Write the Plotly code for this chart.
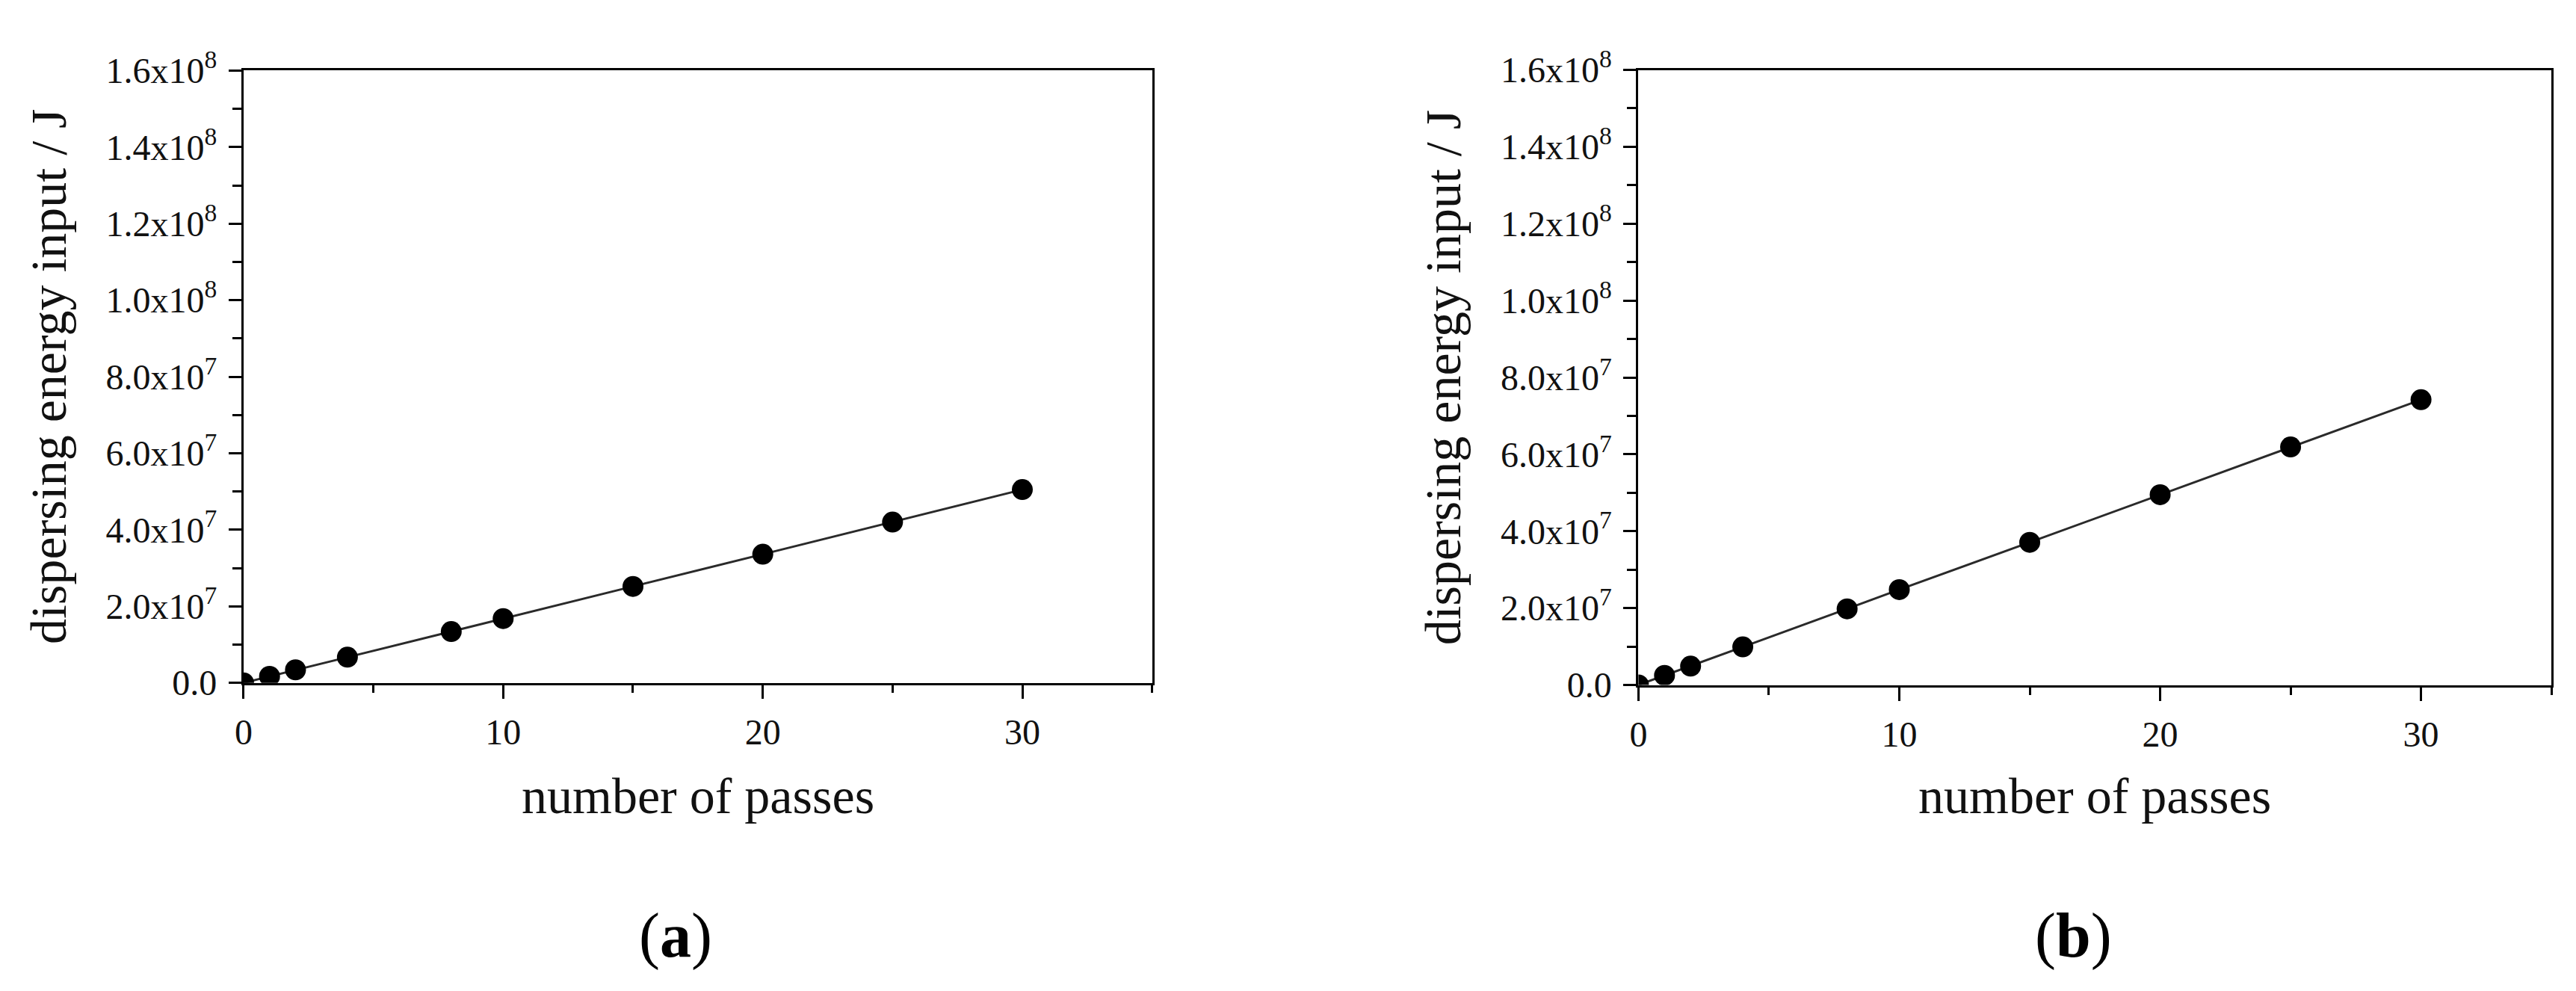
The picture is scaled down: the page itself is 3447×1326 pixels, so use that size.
import plotly.graph_objects as go

W, H = 3447, 1326

# ---- data ----
passes = [0, 1, 2, 4, 8, 10, 15, 20, 25, 30]
energy_a = [0.0, 1.7e6, 3.4e6, 6.7e6, 13.4e6, 16.8e6, 25.2e6, 33.6e6, 42.0e6, 50.5e6]
energy_b = [0.0, 2.5e6, 4.9e6, 9.9e6, 19.8e6, 24.8e6, 37.1e6, 49.5e6, 61.9e6, 74.2e6]

y_tickvals = [0, 2e7, 4e7, 6e7, 8e7, 1.0e8, 1.2e8, 1.4e8, 1.6e8]
y_ticktext = ["0.0", "2.0x10<sup>7</sup>", "4.0x10<sup>7</sup>", "6.0x10<sup>7</sup>",
              "8.0x10<sup>7</sup>", "1.0x10<sup>8</sup>", "1.2x10<sup>8</sup>",
              "1.4x10<sup>8</sup>", "1.6x10<sup>8</sup>"]
x_tickvals = [0, 10, 20, 30]
x_ticktext = ["0", "10", "20", "30"]

x_title = "number of passes"
y_title = "dispersing energy input / J"
panel_labels = ["(<b>a</b>)", "(<b>b</b>)"]

FONT = "Liberation Serif"

def px_x(p):
    return p / W

def px_y(p):
    return 1 - p / H

# pixel boxes of the two plot areas: left, right, top, bottom
boxes = [(307, 1527, 56, 914), (2180, 3406, 55, 917)]
label_centers = [887, 2764]

fig = go.Figure()

for i, (yvals, box) in enumerate(zip([energy_a, energy_b], boxes)):
    xa = "x" if i == 0 else "x2"
    ya = "y" if i == 0 else "y2"
    fig.add_trace(go.Scatter(
        x=passes, y=yvals, mode="lines+markers",
        line=dict(color="#2a2a2a", width=3),
        marker=dict(color="black", size=28, symbol="circle"),
        xaxis=xa, yaxis=ya, showlegend=False, cliponaxis=True,
    ))

axis_common = dict(
    showline=True, linecolor="black", linewidth=3, mirror=True,
    showgrid=False, zeroline=False, ticks="outside", tickcolor="black",
    tickwidth=3, tickfont=dict(family=FONT, size=48, color="#111"),
)

for i, box in enumerate(boxes):
    l, r, t, b = box
    sfx = "" if i == 0 else "2"
    fig.update_layout(**{
        "xaxis" + sfx: dict(
            domain=[px_x(l), px_x(r)], range=[0, 35], anchor="y" + sfx,
            tickmode="array", tickvals=x_tickvals, ticktext=x_ticktext,
            ticklen=18, ticklabelstandoff=4,
            minor=dict(tickmode="linear", tick0=0, dtick=5, ticklen=10,
                       tickwidth=3, tickcolor="black", ticks="outside"),
            **axis_common),
        "yaxis" + sfx: dict(
            domain=[px_y(b), px_y(t)], range=[0, 1.6e8], anchor="x" + sfx,
            tickmode="array", tickvals=y_tickvals, ticktext=y_ticktext,
            ticklen=17, ticklabelstandoff=6,
            minor=dict(tickmode="linear", tick0=0, dtick=1e7, ticklen=12,
                       tickwidth=3, tickcolor="black", ticks="outside"),
            **axis_common),
    })

annotations = []
for i, box in enumerate(boxes):
    l, r, t, b = box
    annotations.append(dict(
        text=x_title, xref="paper", yref="paper",
        x=px_x((l + r) / 2), y=px_y(1073), xanchor="center", yanchor="middle",
        showarrow=False, font=dict(family=FONT, size=68, color="#111")))
    annotations.append(dict(
        text=y_title, xref="paper", yref="paper", textangle=-90,
        x=px_x(l - 262), y=px_y((t + b) / 2), xanchor="center", yanchor="middle",
        showarrow=False, font=dict(family=FONT, size=68, color="#111")))
    annotations.append(dict(
        text=panel_labels[i], xref="paper", yref="paper",
        x=px_x(label_centers[i]), y=px_y(1268), xanchor="center", yanchor="middle",
        showarrow=False, font=dict(family=FONT, size=84, color="black")))

fig.update_layout(
    width=W, height=H, margin=dict(l=0, r=0, t=0, b=0),
    paper_bgcolor="white", plot_bgcolor="white",
    annotations=annotations,
)

fig.write_html("out.html")
